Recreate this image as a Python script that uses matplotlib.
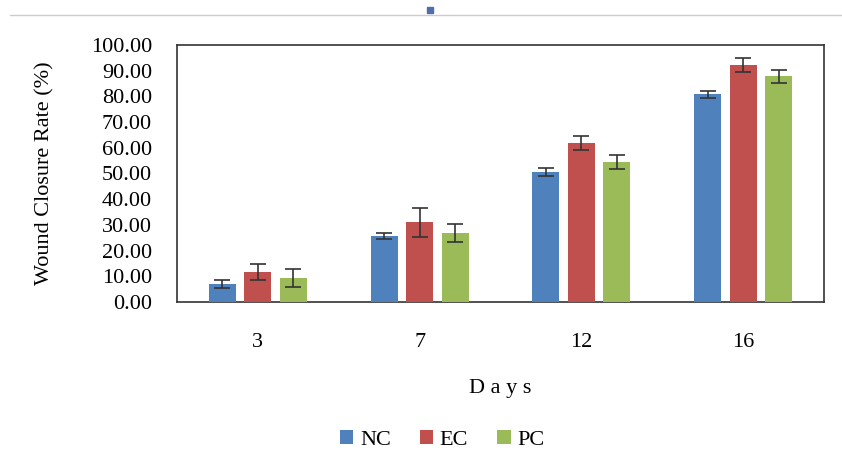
import numpy as np
import matplotlib
matplotlib.use('Agg')
import matplotlib.pyplot as plt
from matplotlib.lines import Line2D
from matplotlib.patches import Rectangle

DAYS   = ['3', '7', '12', '16']
SERIES = ['NC', 'EC', 'PC']
NC     = [7.0, 25.7, 50.7, 80.8]
EC     = [11.7, 31.0, 62.0, 92.2]
PC     = [9.3, 27.0, 54.4, 87.7]
NC_ERR = [1.5, 1.0, 1.5, 1.3]
EC_ERR = [3.0, 5.5, 2.7, 2.6]
PC_ERR = [3.5, 3.5, 2.8, 2.6]
COLORS = ['#4F81BD', '#C0504D', '#9BBB59']

plt.rcParams['font.family'] = 'Liberation Serif'

fig = plt.figure(figsize=(8.42, 4.67), dpi=100)
ax = fig.add_axes([177 / 842, 0.353, 647 / 842, 0.551])

x = np.arange(len(DAYS))
step, width = 0.22, 0.167
for i, (vals, errs) in enumerate(zip([NC, EC, PC], [NC_ERR, EC_ERR, PC_ERR])):
    ax.bar(x + (i - 1) * step, vals, width=width, color=COLORS[i], label=SERIES[i],
           yerr=errs, capsize=6, error_kw=dict(ecolor='#333333', elinewidth=1.2, capthick=1.2),
           zorder=3)

ax.set_xlim(-0.5, len(DAYS) - 0.5)
ax.set_ylim(0, 100)
ax.set_yticks(np.arange(0, 101, 10))
ax.set_yticklabels([f'{v:.2f}' for v in np.arange(0, 101, 10)], fontsize=16)
ax.set_xticks(x)
ax.set_xticklabels(DAYS, fontsize=16)
ax.tick_params(axis='x', length=0, pad=22)
ax.tick_params(axis='y', length=0, pad=18)
for s in ax.spines.values():
    s.set_color('#333333')
    s.set_linewidth(1.2)
ax.set_ylabel('Wound Closure Rate (%)', fontsize=16, labelpad=26)
ax.set_xlabel('D a y s', fontsize=16, labelpad=20)

ax.legend(loc='upper center', bbox_to_anchor=(0.41, -0.42), ncol=3, frameon=False,
          fontsize=16, handlelength=0.6, handleheight=0.6, handletextpad=0.3,
          columnspacing=1.3)

# thin top rule and small marker left over from the original figure
fig.add_artist(Line2D([0.012, 1.0], [1 - 15 / 467, 1 - 15 / 467], color='#cccccc', lw=1))
fig.add_artist(Rectangle((427 / 842, 1 - 13 / 467), 6 / 842, 6 / 467, color='#4F6FA8'))

plt.savefig('out.png', dpi=100)
